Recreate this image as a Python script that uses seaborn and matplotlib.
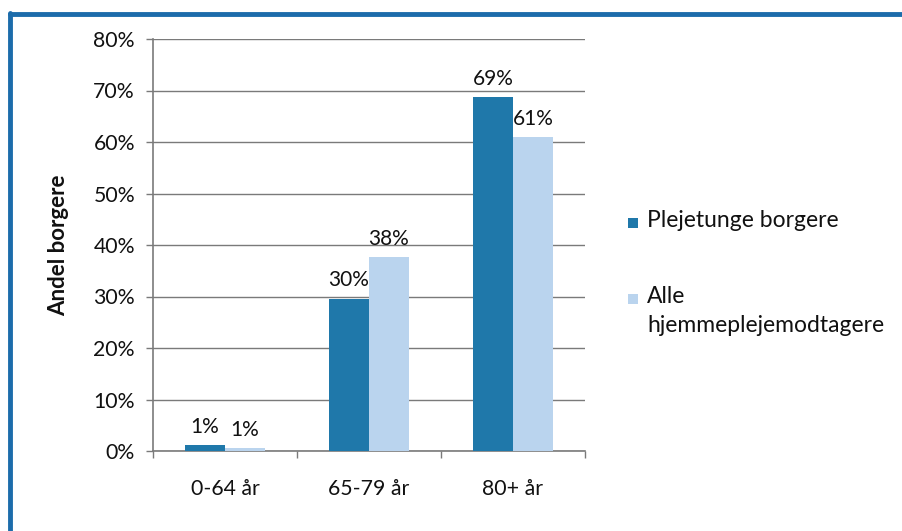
import matplotlib
matplotlib.use("Agg")
import matplotlib.pyplot as plt
from matplotlib.patches import Rectangle
from matplotlib.lines import Line2D
import seaborn as sns
import pandas as pd

# Data: share of citizens by age group (percent)
categories = ["0-64 år", "65-79 år", "80+ år"]
series_names = ["Plejetunge borgere", "Alle\nhjemmeplejemodtagere"]
plejetunge = [1.1, 29.6, 68.7]
alle = [0.6, 37.6, 61.0]
colors = ["#1f78aa", "#bad4ee"]
yticks = [0, 10, 20, 30, 40, 50, 60, 70, 80]

sns.set_theme(style="white")
plt.rcParams["font.family"] = ["Lato", "DejaVu Sans"]

df = pd.DataFrame({
    "Aldersgruppe": categories * 2,
    "Serie": [series_names[0]] * 3 + [series_names[1]] * 3,
    "Andel": plejetunge + alle,
})

fig = plt.figure(figsize=(9.03, 5.31), dpi=100)
ax = fig.add_axes([153 / 903, 1 - 451 / 531, 432 / 903, 412 / 531])

sns.barplot(data=df, x="Aldersgruppe", y="Andel", hue="Serie",
            palette=colors, width=0.556, ax=ax, legend=False,
            saturation=1, edgecolor="none", zorder=3)

ax.set_ylim(0, 80)
ax.set_xlim(-0.5, 2.5)
ax.set_yticks(yticks)
ax.set_yticklabels([f"{t}%" for t in yticks])
ax.yaxis.grid(True, color="#7a7a7a", linewidth=1.0, zorder=0)
ax.set_axisbelow(True)

for s in ["top", "right"]:
    ax.spines[s].set_visible(False)
for s in ["left", "bottom"]:
    ax.spines[s].set_color("#7a7a7a")
    ax.spines[s].set_linewidth(1.2)

ax.tick_params(axis="y", which="major", left=True, length=5, width=1,
               color="#7a7a7a", pad=8, labelsize=15.3, labelcolor="#111111")
ax.set_xticks([-0.5, 0.5, 1.5, 2.5], minor=True)
ax.tick_params(axis="x", which="minor", bottom=True, length=5, width=1,
               color="#7a7a7a")
ax.tick_params(axis="x", which="major", bottom=False, pad=14,
               labelsize=15.3, labelcolor="#111111")

ax.set_xlabel("")
ax.set_ylabel("Andel borgere", fontsize=16, fontweight="bold",
              color="#111111")
ax.yaxis.set_label_coords(-0.195, 0.5)

# value labels above bars
for cont in ax.containers:
    ax.bar_label(cont, labels=[f"{v:.0f}%" for v in cont.datavalues],
                 padding=6, fontsize=15, color="#111111")

# legend drawn as patches + text, with the swatch aligned to the first line
legend_y = [223, 299]
for name, col, yy in zip(series_names, colors, legend_y):
    fig.patches.append(Rectangle((628 / 903, 1 - (yy + 5) / 531), 10 / 903,
                                 10 / 531, transform=fig.transFigure,
                                 facecolor=col, edgecolor="none"))
    fig.text(647 / 903, 1 - (yy - 13) / 531, name, fontsize=16.5,
             color="#111111", va="top", ha="left", linespacing=1.5,
             transform=fig.transFigure)

# blue frame around the chart
frame_col = "#1c6cab"
fig.add_artist(Line2D([10 / 903, 10 / 903], [0.0, 1 - 13 / 531],
                      transform=fig.transFigure, color=frame_col, linewidth=3.5))
fig.add_artist(Line2D([10 / 903, 1.0], [1 - 14 / 531, 1 - 14 / 531],
                      transform=fig.transFigure, color=frame_col, linewidth=3.5))

fig.savefig("out.png", dpi=100)
